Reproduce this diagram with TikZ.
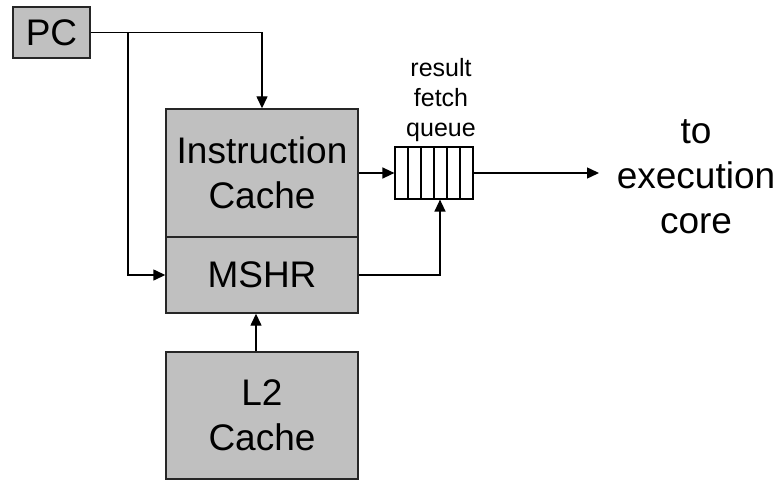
\documentclass[tikz,border=0pt]{standalone}
\usepackage{fontspec}
\setmainfont{Liberation Sans}
\usetikzlibrary{arrows.meta,calc}
\definecolor{boxgray}{HTML}{C0C0C0}
\begin{document}
\begin{tikzpicture}[x=1pt,y=-1pt,
  line width=1.4pt,
  block/.style={draw=black!85, fill=boxgray, inner sep=0pt, align=center,
    font=\fontsize{37}{45}\selectfont},
  arr/.style={-{Triangle[length=12pt,width=11pt]}},
  big/.style={align=center, font=\fontsize{37}{45}\selectfont, inner sep=0pt},
  small/.style={align=center, font=\fontsize{25}{30}\selectfont, inner sep=0pt}]
\useasboundingbox (0,0) rectangle (781,481);
\node[block, minimum width=77pt, minimum height=51pt] (pc) at (51.5,32.5) {PC};
\node[block, minimum width=192pt, minimum height=128pt] (ic) at (262,173) {Instruction\\Cache};
\node[block, minimum width=192pt, minimum height=76pt] (mshr) at (262,275) {MSHR};
\node[block, minimum width=192pt, minimum height=127pt] (l2) at (262,415.5) {L2\\Cache};
\node[draw, fill=white, minimum width=78pt, minimum height=52pt, inner sep=0pt, line width=1.2pt] (q) at (434,173) {};
\foreach \xx in {408,421,434,447,460}
  \draw[line width=1.2pt] (q.north -| \xx,0) -- (q.south -| \xx,0);
\node[small] (ql) at (441,100) {result\\fetch\\queue};
\coordinate (br) at (128,32.5);
\coordinate (out) at (599,173);
\node[big] (exec) at (696,177) {to\\execution\\core};
\draw[arr] (pc.east) -| (ic.north);
\draw[arr] (br) |- (mshr.west);
\draw[arr] (ic.east) -- (q.west);
\draw[arr] (q.east) -- (out);
\draw[arr] (mshr.east) -| ([xshift=6pt]q.south);
\draw[arr] ([xshift=-6pt]l2.north) -- ([xshift=-6pt]mshr.south);
\end{tikzpicture}
\end{document}
